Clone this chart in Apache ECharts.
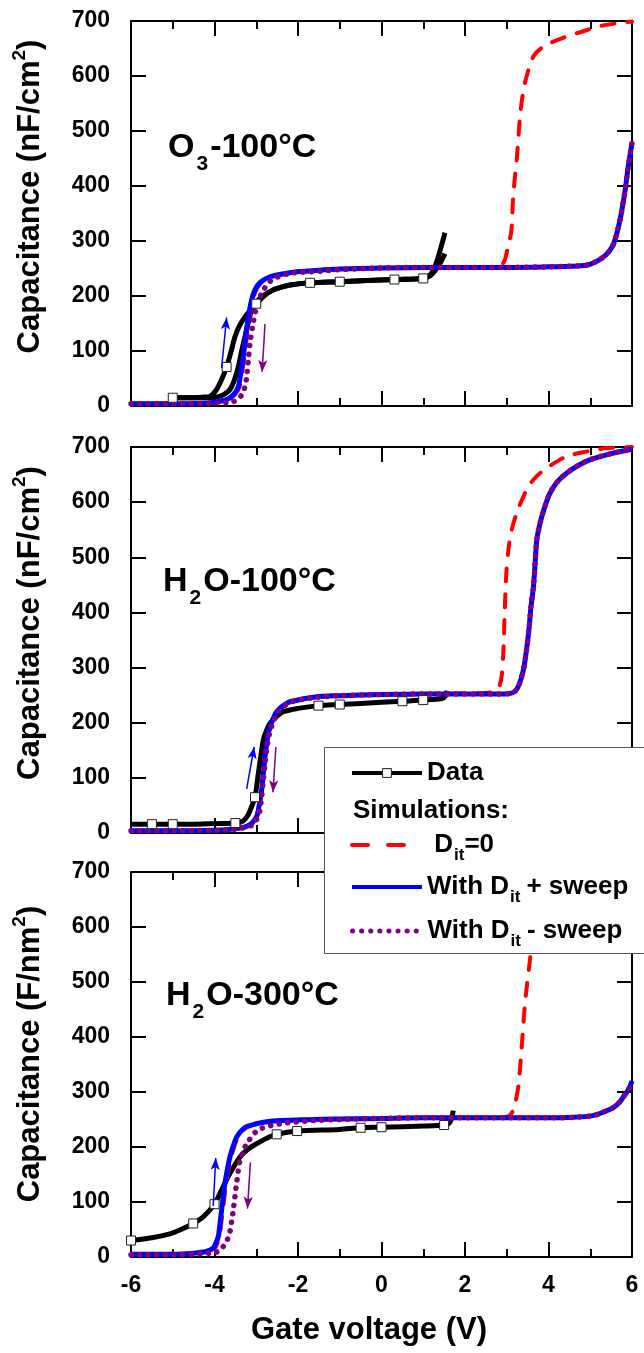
<!DOCTYPE html>
<html><head><meta charset="utf-8">
<script src="https://cdn.jsdelivr.net/npm/echarts@6/dist/echarts.min.js"></script>
<style>html,body{margin:0;padding:0;background:#fff}#c{width:644px;height:1353px}</style>
</head><body><div id="c"></div>
<script>
const FONT = '"Liberation Sans", Arial, Helvetica, sans-serif';

// ---------- axis ticks / labels ----------
const xTickValues = [-6, -4, -2, 0, 2, 4, 6];
const xTickLabels = ['-6', '-4', '-2', '0', '2', '4', '6'];
const yTickValues = [0, 100, 200, 300, 400, 500, 600, 700];
const yTickLabels = ['0', '100', '200', '300', '400', '500', '600', '700'];
const xTitle = 'Gate voltage (V)';
const yTitles = ['{a|Capacitance (nF/cm}{p|2}{a|)}', '{a|Capacitance (nF/cm}{p|2}{a|)}', '{a|Capacitance (F/nm}{p|2}{a|)}'];
const panelLabels = ['{a|O}{s|3}{a|-100°C}', '{a|H}{s|2}{a|O-100°C}', '{a|H}{s|2}{a|O-300°C}'];
const seriesNames = ['Data', 'Dit0', 'DitPlus', 'DitMinus'];
const legendLabels = ['{m|Data}', '{m| D}{t|it}{m|=0}', '{m|With D}{s|it}{m|+ sweep}', '{m|With D}{s|it}{m|- sweep}'];
const simulationsLabel = 'Simulations:';

// ---------- Panel 1 : O3-100°C ----------
const p1DataUp = [[-5.1,15],[-4.6,15],[-4.3,16],[-4.1,18],[-3.95,30],[-3.83,48],[-3.71,71],[-3.6,100],[-3.51,126],[-3.4,146],[-3.27,162],[-3.12,176],[-3.0,186],[-2.8,201],[-2.6,211],[-2.4,216],[-2.19,220],[-1.71,224],[-1.0,226],[0.31,230],[1.0,232],[1.12,236],[1.22,244],[1.32,262],[1.42,287],[1.52,315]];
const p1DataDown = [[-5.1,15],[-4.3,15],[-4.0,16],[-3.87,18],[-3.75,22],[-3.63,30],[-3.52,48],[-3.43,71],[-3.35,100],[-3.27,126],[-3.19,152],[-3.11,174],[-3.0,188],[-2.91,196],[-2.7,207],[-2.4,216],[-2.19,220],[-1.71,224],[-1.0,226],[0.31,230],[1.0,232],[1.15,236],[1.3,248],[1.42,262],[1.52,277]];
const p1DataMarks = [[-5.0,15],[-3.71,71],[-3.0,186],[-1.71,224],[-1.0,226],[0.31,230],[1.0,232]];
const p1Dit0 = [[-6,4],[-5,4],[-4.3,5],[-4.0,7],[-3.67,12],[-3.52,20],[-3.4,35],[-3.34,60],[-3.28,90],[-3.22,128],[-3.16,162],[-3.09,190],[-3.0,211],[-2.87,225],[-2.64,235],[-2.27,241],[-2.0,244],[-1.5,247],[-1,249],[0,251],[1,252],[2,252],[2.7,252],[2.85,254],[2.95,265],[3.03,290],[3.11,318],[3.15,376],[3.2,420],[3.24,449],[3.32,528],[3.38,565],[3.44,589],[3.55,618],[3.65,637],[3.85,652],[4.07,661],[4.4,671],[4.73,679],[5.31,692],[6,699]];
const p1DitPlus = [[-6,4],[-5,4],[-4.3,5],[-4.0,7],[-3.7,12],[-3.55,20],[-3.43,35],[-3.37,60],[-3.31,90],[-3.25,128],[-3.19,162],[-3.12,190],[-3.03,211],[-2.9,225],[-2.67,235],[-2.3,241],[-2.03,244],[-1.5,247],[-1,249],[0,251],[1,252],[2,252],[3,252],[4,253],[4.5,254],[4.9,256],[5.1,261],[5.3,270],[5.45,281],[5.56,295],[5.65,318],[5.73,345],[5.8,375],[5.85,400],[5.9,430],[5.94,450],[6,478]];
const p1DitMinus = [[-6,4],[-5,4],[-4,5],[-3.6,7],[-3.45,12],[-3.35,20],[-3.27,35],[-3.23,53],[-3.19,84],[-3.15,114],[-3.09,144],[-3.01,174],[-2.87,205],[-2.63,229],[-2.19,241],[-1.47,245],[-1,248],[0,251],[1,252],[2,252],[3,252],[4,253],[4.5,254],[4.9,256],[5.1,261],[5.3,270],[5.45,281],[5.56,295],[5.65,318],[5.73,345],[5.8,375],[5.85,400],[5.9,430],[5.94,450],[6,478]];
const p1ArrowPlus = [[-3.83,69],[-3.71,161]];
const p1ArrowMinus = [[-2.79,149],[-2.86,62]];

// ---------- Panel 2 : H2O-100°C ----------
const p2Data = [[-6,16],[-5.5,16],[-5,16],[-4.5,16],[-4,17],[-3.5,18],[-3.31,22],[-3.2,32],[-3.11,48],[-3.03,65],[-2.95,108],[-2.89,140],[-2.83,169],[-2.75,187],[-2.67,199],[-2.5,212],[-2.35,220],[-2.0,226],[-1.51,231],[-1.0,233],[0,237],[0.5,239],[1.0,241],[1.45,244],[1.53,248],[1.57,258]];
const p2DataMarks = [[-5.5,16],[-5,16],[-3.5,18],[-3.03,65],[-1.51,231],[-1.0,233],[0.5,239],[1.0,241]];
const p2Dit0 = [[-6,4],[-5,4],[-4,5],[-3.6,7],[-3.4,9],[-3.23,12],[-3.1,18],[-2.99,30],[-2.93,50],[-2.87,78],[-2.83,108],[-2.79,139],[-2.75,162],[-2.71,181],[-2.62,203],[-2.51,220],[-2.19,238],[-1.55,247],[-1,249],[0,251],[1,252],[2,253],[2.5,254],[2.72,258],[2.82,266],[2.88,285],[2.92,330],[2.95,398],[2.99,471],[3.05,520],[3.12,550],[3.25,583],[3.4,610],[3.52,629],[3.73,648],[4.0,664],[4.44,683],[5.0,693],[5.4,698],[6,700]];
const p2DitPlus = [[-6,4],[-5,4],[-4,5],[-3.6,7],[-3.4,9],[-3.23,12],[-3.1,18],[-2.99,30],[-2.93,50],[-2.87,78],[-2.83,108],[-2.79,139],[-2.75,162],[-2.71,181],[-2.62,203],[-2.51,220],[-2.35,231],[-2.19,238],[-1.55,247],[-1,249],[0,251],[1,252],[2,252],[2.8,252],[3.07,253],[3.2,257],[3.3,270],[3.4,296],[3.47,330],[3.53,368],[3.58,410],[3.64,447],[3.68,490],[3.72,532],[3.78,556],[3.84,574],[3.94,598],[4.04,617],[4.2,636],[4.44,653],[4.7,666],[5.0,677],[5.5,688],[6,696]];
const p2DitMinus = [[-6,4],[-5,4],[-4,5],[-3.5,7],[-3.2,11],[-3.05,17],[-2.97,28],[-2.91,42],[-2.87,66],[-2.83,96],[-2.79,124],[-2.75,151],[-2.69,178],[-2.6,200],[-2.45,222],[-2.15,238],[-1.55,246],[-1,249],[0,251],[1,252],[2,252],[2.8,252],[3.07,253],[3.2,257],[3.3,270],[3.4,296],[3.47,330],[3.53,368],[3.58,410],[3.64,447],[3.68,490],[3.72,532],[3.78,556],[3.84,574],[3.94,598],[4.04,617],[4.2,636],[4.44,653],[4.7,666],[5.0,677],[5.5,688],[6,696]];
const p2ArrowPlus = [[-3.23,80],[-3.05,156]];
const p2ArrowMinus = [[-2.53,156],[-2.6,74]];

// ---------- Panel 3 : H2O-300°C ----------
const p3Data = [[-6,30],[-5.5,35],[-5.07,42],[-4.83,49],[-4.51,61],[-4.27,73],[-4.0,96],[-3.83,122],[-3.63,152],[-3.39,182],[-3.2,196],[-2.99,206],[-2.75,216],[-2.51,223],[-2.02,229],[-1.0,232],[-0.5,235],[0,236],[0.5,237],[1.0,238],[1.5,240],[1.62,243],[1.68,252],[1.72,266]];
const p3DataMarks = [[-6,30],[-4.51,61],[-4.0,96],[-2.51,223],[-2.02,229],[-0.5,235],[0,236],[1.5,240]];
const p3Dit0 = [[-6,5],[-5,5],[-4.5,7],[-4.2,10],[-3.99,16],[-3.93,25],[-3.88,37],[-3.84,60],[-3.8,85],[-3.76,110],[-3.72,134],[-3.66,160],[-3.6,182],[-3.52,202],[-3.44,218],[-3.32,230],[-3.2,237],[-2.72,246],[-1.6,250],[-1,251],[0,252],[1,253],[2,253],[2.8,253],[3.05,256],[3.13,263],[3.19,275],[3.28,312],[3.36,384],[3.44,463],[3.53,523],[3.61,571],[3.75,615],[4.0,650],[4.4,675],[5.0,692],[6,700]];
const p3DitPlus = [[-6,5],[-5,5],[-4.5,7],[-4.2,10],[-4.03,16],[-3.97,25],[-3.91,37],[-3.87,60],[-3.83,85],[-3.79,110],[-3.75,134],[-3.69,160],[-3.63,182],[-3.55,202],[-3.47,218],[-3.35,230],[-3.23,237],[-2.75,246],[-1.63,250],[-1,251],[0,252],[1,253],[2,253],[3,253],[4,253],[4.6,254],[5.06,257],[5.3,263],[5.56,272],[5.72,283],[5.81,293],[5.92,305],[6,320]];
const p3DitMinus = [[-6,4],[-5,4],[-4.3,6],[-4.0,8],[-3.85,13],[-3.79,19],[-3.7,30],[-3.63,46],[-3.59,64],[-3.55,85],[-3.51,110],[-3.47,134],[-3.43,157],[-3.39,176],[-3.3,194],[-3.23,206],[-2.95,231],[-2.43,242],[-1.63,248],[-1,250],[0,252],[1,253],[2,253],[3,253],[4,253],[4.6,254],[5.06,257],[5.3,263],[5.56,272],[5.72,283],[5.81,293],[5.92,305],[6,320]];
const p3ArrowPlus = [[-4.03,93],[-3.97,180]];
const p3ArrowMinus = [[-3.14,172],[-3.21,88]];

// ---------- build ----------
const panels = [
  {data: [p1DataUp, p1DataDown], marks: [p1DataMarks, []], dit0: p1Dit0, plus: p1DitPlus, minus: p1DitMinus, arP: p1ArrowPlus, arM: p1ArrowMinus},
  {data: [p2Data], marks: [p2DataMarks], dit0: p2Dit0, plus: p2DitPlus, minus: p2DitMinus, arP: p2ArrowPlus, arM: p2ArrowMinus},
  {data: [p3Data], marks: [p3DataMarks], dit0: p3Dit0, plus: p3DitPlus, minus: p3DitMinus, arP: p3ArrowPlus, arM: p3ArrowMinus}
];
const gridLayout = [{top: 21, height: 385}, {top: 447, height: 386}, {top: 872, height: 385}];
const BLUE = '#0000ff', RED = '#ff0000', PURPLE = '#800080', BLACK = '#000000';

function withMarks(curve, marks) {
  const pts = curve.map(p => ({value: p, symbol: 'none'}));
  marks.forEach(m => {
    const hit = pts.find(q => Math.abs(q.value[0] - m[0]) < 1e-9 && Math.abs(q.value[1] - m[1]) < 1e-9);
    if (hit) { hit.symbol = 'rect'; }
    else pts.push({value: m, symbol: 'rect'});
  });
  pts.sort((a, b) => a.value[0] - b.value[0]);
  return pts;
}
function arrowLine(pts, color) {
  return {silent: true, animation: false, symbol: ['none', 'arrow'], symbolSize: [7, 12],
    label: {show: false}, emphasis: {disabled: true},
    lineStyle: {color: color, width: 1.5, type: 'solid'},
    data: [[{coord: pts[0]}, {coord: pts[1]}]]};
}

const grid = [], xAxis = [], yAxis = [], series = [];
const axisLineStyle = {color: BLACK, width: 2};
panels.forEach((P, i) => {
  grid.push({left: 131, width: 501, top: gridLayout[i].top, height: gridLayout[i].height, containLabel: false, outerBoundsMode: 'none'});
  ['bottom', 'top'].forEach(pos => {
    const showLab = (i === 2 && pos === 'bottom');
    const ax = {type: 'value', gridIndex: i, position: pos, min: -6, max: 6, interval: 2,
      axisLine: {show: true, onZero: false, lineStyle: axisLineStyle},
      axisTick: {show: true, inside: true, length: 15, lineStyle: axisLineStyle},
      minorTick: {show: true, splitNumber: 2, length: 8, lineStyle: axisLineStyle},
      splitLine: {show: false}, minorSplitLine: {show: false},
      axisLabel: {show: showLab, margin: 17, color: BLACK, fontSize: 23, fontWeight: 'bold', fontFamily: FONT,
        formatter: v => { const k = xTickValues.indexOf(v); return k >= 0 ? xTickLabels[k] : ''; }}};
    if (showLab) {
      ax.name = xTitle; ax.nameLocation = 'middle'; ax.nameGap = 58;
      ax.nameTextStyle = {color: BLACK, fontSize: 31, fontWeight: 'bold', fontFamily: FONT, padding: [0, 25, 0, 0]};
    }
    xAxis.push(ax);
  });
  ['left', 'right'].forEach(pos => {
    const left = pos === 'left';
    const ay = {type: 'value', gridIndex: i, position: pos, min: 0, max: 700, interval: 100,
      axisLine: {show: true, onZero: false, lineStyle: axisLineStyle},
      axisTick: {show: true, inside: true, length: 15, lineStyle: axisLineStyle},
      splitLine: {show: false},
      axisLabel: {show: left, margin: 21, color: BLACK, fontSize: 23, fontWeight: 'bold', fontFamily: FONT,
        formatter: v => { const k = yTickValues.indexOf(v); return k >= 0 ? yTickLabels[k] : ''; }}};
    if (left) {
      ay.name = yTitles[i]; ay.nameLocation = 'middle'; ay.nameGap = 81; ay.nameRotate = 90;
      ay.nameTextStyle = {color: BLACK, fontSize: 31, fontWeight: 'bold', fontFamily: FONT, padding: [0, 0, 0, i === 2 ? 21 : 34],
        rich: {a: {fontSize: 31, fontWeight: 'bold', fontFamily: FONT, color: BLACK, lineHeight: 40},
               p: {fontSize: 19, fontWeight: 'bold', fontFamily: FONT, color: BLACK, lineHeight: 40, verticalAlign: 'top'}}};
    }
    yAxis.push(ay);
  });
  const base = {type: 'line', xAxisIndex: 2 * i, yAxisIndex: 2 * i, smooth: 0.3, animation: false,
    emphasis: {disabled: true}, silent: true, clip: true};
  P.data.forEach((d, k) => {
    series.push(Object.assign({}, base, {name: seriesNames[0], data: withMarks(d, P.marks[k]),
      symbol: 'rect', symbolSize: 9, showSymbol: true, showAllSymbol: true,
      itemStyle: {color: '#ffffff', borderColor: '#222222', borderWidth: 1},
      lineStyle: {color: BLACK, width: 5}}));
  });
  series.push(Object.assign({}, base, {name: seriesNames[1], data: P.dit0, symbol: 'none', itemStyle: {color: RED},
    lineStyle: {color: RED, width: 4, type: [13, 13], cap: 'round'}}));
  series.push(Object.assign({}, base, {name: seriesNames[2], data: P.plus, symbol: 'none', itemStyle: {color: BLUE},
    lineStyle: {color: BLUE, width: 5}, markLine: arrowLine(P.arP, BLUE)}));
  series.push(Object.assign({}, base, {name: seriesNames[3], data: P.minus, symbol: 'none', itemStyle: {color: PURPLE},
    lineStyle: {color: PURPLE, width: 5.5, type: [0.1, 8.5], cap: 'round'}, markLine: arrowLine(P.arM, PURPLE)}));
});

const legRich = {
  m: {fontSize: 26, fontWeight: 'bold', fontFamily: FONT, color: BLACK, lineHeight: 44},
  s: {fontSize: 17, fontWeight: 'bold', fontFamily: FONT, color: BLACK, lineHeight: 44, verticalAlign: 'top', padding: [24, 6, 0, 1]},
  t: {fontSize: 17, fontWeight: 'bold', fontFamily: FONT, color: BLACK, lineHeight: 44, verticalAlign: 'top', padding: [24, 0, 0, 1]}
};
const legendTops = [760, 823, 865, 909];
const legendLines = [
  {color: BLACK, width: 4, type: 'solid'},
  {color: RED, width: 4, type: [16, 20], cap: 'round'},
  {color: BLUE, width: 4, type: 'solid'},
  {color: PURPLE, width: 5, type: [0.1, 9], cap: 'round'}
];
const legend = seriesNames.map((nm, k) => ({
  data: [nm], left: 350, top: legendTops[k], orient: 'vertical', padding: 0, z: 60,
  itemWidth: 70, itemHeight: 11, selectedMode: false,
  formatter: () => legendLabels[k],
  textStyle: {color: BLACK, fontSize: 26, fontWeight: 'bold', fontFamily: FONT, rich: k === 0 ?
    {m: {fontSize: 26, fontWeight: 'bold', fontFamily: FONT, color: BLACK, lineHeight: 28}} : legRich},
  itemStyle: k === 0 ? {color: '#ffffff', borderColor: '#222222', borderWidth: 1} : {opacity: 0},
  lineStyle: legendLines[k]
}));

const panelRich = {
  a: {fontSize: 34, fontWeight: 'bold', fontFamily: FONT, color: BLACK, lineHeight: 40},
  s: {fontSize: 21, fontWeight: 'bold', fontFamily: FONT, color: BLACK, lineHeight: 40, verticalAlign: 'top', padding: [26, 2, 0, 2]}
};
const panelLabelPos = [[168, 148], [163, 582], [166, 996]];
const graphicEls = [
  {type: 'rect', z: 50, silent: true, shape: {x: 324.5, y: 747.5, width: 400, height: 206},
    style: {fill: '#ffffff', stroke: '#555555', lineWidth: 1}},
  {type: 'text', z: 60, silent: true, x: 353, y: 811,
    style: {text: simulationsLabel, fill: BLACK, fontSize: 26, fontWeight: 'bold', fontFamily: FONT, verticalAlign: 'middle', align: 'left'}}
];
panelLabels.forEach((t, i) => graphicEls.push({type: 'text', z: 60, silent: true, x: panelLabelPos[i][0], y: panelLabelPos[i][1],
  style: {text: t, rich: panelRich, fill: BLACK, fontSize: 34, fontWeight: 'bold', fontFamily: FONT, verticalAlign: 'middle', align: 'left'}}));

const chart = echarts.init(document.getElementById('c'), null, {renderer: 'canvas'});
chart.setOption({
  animation: false, backgroundColor: '#ffffff',
  grid, xAxis, yAxis, series, legend,
  graphic: {elements: graphicEls}
});
</script></body></html>
